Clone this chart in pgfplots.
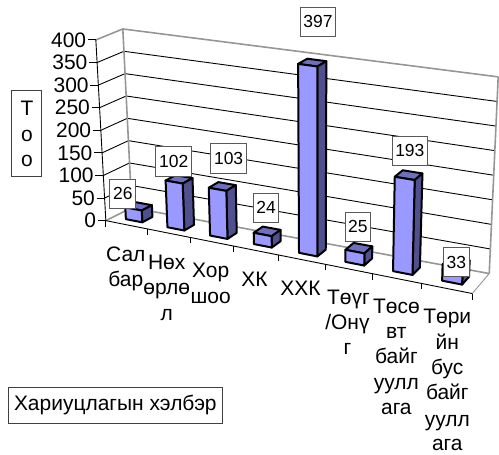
\documentclass[border=0pt]{standalone}
\usepackage{fontspec}
\setmainfont{Liberation Sans}
\usepackage{pgfplots}
\usepackage{pgfplotstable}
\pgfplotsset{compat=1.18}
\definecolor{wallgray}{HTML}{969696}
\definecolor{barfront}{HTML}{9999FF}
\definecolor{barside}{HTML}{50508F}
\definecolor{bartop}{HTML}{6F6FC0}
\pgfplotstableread{
idx value
0 26
1 102
2 103
3 24
4 397
5 25
6 193
7 33
}\datatbl
% perspective: u in [0,1] along categories, v = value, d in [0,1] depth
\newcommand\Proj[5]{%
 \pgfmathsetmacro\ps{(#1)/(1+0.118*(1-(#1)))}%
 \pgfmathsetmacro\pv{(#2)/400}%
 \pgfmathsetmacro\pd{#3}%
 \pgfmathsetmacro#4{(1-\pd)*((1-\pv)*(106+367*\ps)+\pv*(96+384*\ps))+\pd*((1-\pv)*(132+358*\ps)+\pv*(123+376*\ps))}%
 \pgfmathsetmacro#5{(1-\pd)*((1-\pv)*(221+73*\ps)+\pv*(40+52*\ps))+\pd*((1-\pv)*(208+66*\ps)+\pv*(29+48*\ps))}%
}
\newcommand\Seg[3]{% style, 2 points
 \Proj#2\Xa\Ya \Proj#3\Xb\Yb
 \edef\temp{\noexpand\addplot[\unexpanded{#1}] coordinates {(\Xa,\Ya)(\Xb,\Yb)};}\temp
}
\tikzset{barline/.style={draw=black,line width=2pt,line join=round}}
\newcommand\FaceE[5]{\Proj#2\Xa\Ya \Proj#3\Xb\Yb \Proj#4\Xc\Yc \Proj#5\Xd\Yd
 \edef\temp{\noexpand\addplot[\unexpanded{#1}] coordinates {(\Xa,\Ya)(\Xb,\Yb)(\Xc,\Yc)(\Xd,\Yd)} --cycle;}\temp}
\newcommand\DrawBar[1]{%
 \pgfplotstablegetelem{#1}{value}\of\datatbl
 \edef\val{\pgfplotsretval}%
 \pgfmathsetmacro\ua{(#1+0.5)/8-0.025}%
 \pgfmathsetmacro\ub{(#1+0.5)/8+0.025}%
 \def\da{0.3}\def\db{0.7}%
 \FaceE{fill=bartop,barline}{{\ua}{\val}{\da}}{{\ub}{\val}{\da}}{{\ub}{\val}{\db}}{{\ua}{\val}{\db}}%
 \FaceE{fill=barside,barline}{{\ub}{0}{\da}}{{\ub}{\val}{\da}}{{\ub}{\val}{\db}}{{\ub}{0}{\db}}%
 \FaceE{fill=barfront,barline}{{\ua}{0}{\da}}{{\ub}{0}{\da}}{{\ub}{\val}{\da}}{{\ua}{\val}{\da}}%
}
\newcommand\GridLine[2]{% value, style
 \Proj{0}{#1}{0}\Xa\Ya \Proj{0}{#1}{1}\Xb\Yb \Proj{1}{#1}{1}\Xc\Yc
 \edef\temp{\noexpand\addplot[\unexpanded{#2}] coordinates {(\Xa,\Ya)(\Xb,\Yb)(\Xc,\Yc)};}\temp}
\newcommand\Tick[1]{\Proj{0}{#1}{0}\Xa\Ya
 \pgfmathsetmacro\Xs{\Xa-8}%
 \edef\temp{\noexpand\addplot[black,line width=0.9pt] coordinates {(\Xs,\Ya)(\Xa,\Ya)};}\temp
 \edef\temp{\noexpand\node[anchor=east,font=\noexpand\fontsize{21}{24}\noexpand\selectfont,inner sep=0pt] at (axis cs:\Xs-1.5,\Ya) {#1};}\temp}
\newcommand\Xtick[1]{\pgfmathsetmacro\uu{#1/8}\Proj{\uu}{0}{0}\Xa\Ya
 \pgfmathsetmacro\Yt{\Ya+6}%
 \edef\temp{\noexpand\addplot[black,line width=0.9pt] coordinates {(\Xa,\Ya)(\Xa,\Yt)};}\temp}
\newcommand\Lab[3]{\node[anchor=base,font=\fontsize{21}{24}\selectfont,inner sep=0pt] at (axis cs:#1,#2+7.5) {#3};}
\newcommand\Val[3]{\node[draw=black!65,fill=white,line width=0.8pt,font=\fontsize{17.5}{20}\selectfont,inner sep=0pt,minimum height=29.5pt,minimum width=#3pt] at (axis cs:#1) {#2};}
\begin{document}
\begin{tikzpicture}
\begin{axis}[scale only axis,width=499pt,height=455pt,xmin=0,xmax=499,ymin=0,ymax=455,y dir=reverse,hide axis,clip=false]
\path (axis cs:0,0) rectangle (axis cs:499,455);
% gridlines on the walls
\GridLine{50}{black,line width=0.9pt}
\GridLine{100}{black,line width=0.9pt}
\GridLine{150}{black,line width=0.9pt}
\GridLine{200}{black,line width=0.9pt}
\GridLine{250}{black,line width=0.9pt}
\GridLine{300}{black,line width=0.9pt}
\GridLine{350}{black,line width=0.9pt}
\GridLine{400}{wallgray,line width=1.6pt}
\GridLine{0}{wallgray,line width=1.6pt}
\Seg{wallgray,line width=1.6pt}{{0}{0}{1}}{{0}{400}{1}}
\Seg{wallgray,line width=1.6pt}{{1}{0}{1}}{{1}{400}{1}}
\Seg{wallgray,line width=0.9pt}{{1}{0}{0}}{{1}{0}{1}}
% axes
\Seg{black,line width=0.9pt}{{0}{0}{0}}{{0}{400}{0}}
\Seg{black,line width=0.9pt}{{0}{0}{0}}{{1}{0}{0}}
\Tick{0}\Tick{50}\Tick{100}\Tick{150}\Tick{200}\Tick{250}\Tick{300}\Tick{350}\Tick{400}
\Xtick{0}\Xtick{1}\Xtick{2}\Xtick{3}\Xtick{4}\Xtick{5}\Xtick{6}\Xtick{7}\Xtick{8}
% bars
\DrawBar{0}\DrawBar{1}\DrawBar{2}\DrawBar{3}\DrawBar{4}\DrawBar{5}\DrawBar{6}\DrawBar{7}
% value boxes
\Val{123,194}{26}{26}
\Val{174,161.5}{102}{36}
\Val{229,158.5}{103}{36}
\Val{266.5,208}{24}{25}
\Val{318.5,22}{397}{35}
\Val{358.5,227}{25}{25}
\Val{410.5,151}{193}{35}
\Val{457,262.5}{33}{26}
% category labels
\Lab{126}{254}{Сал}\Lab{126}{279}{бар}
\Lab{167}{262}{Нөх}\Lab{167}{287}{өрлө}\Lab{167}{314}{л}
\Lab{211}{270}{Хор}\Lab{211}{296}{шоо}
\Lab{255}{279}{ХК}
\Lab{301}{288}{ХХК}
\Lab{349}{297}{Төүг}\Lab{348}{323}{/Онү}\Lab{348}{348}{г}
\Lab{397}{306}{Төсө}\Lab{397}{332}{вт}\Lab{397}{357}{байг}\Lab{397}{383}{уулл}\Lab{397}{408}{ага}
\Lab{448}{317}{Төри}\Lab{448}{343}{йн}\Lab{448}{368}{бус}\Lab{448}{393}{байг}\Lab{448}{420}{уулл}\Lab{448}{444}{ага}
% axis titles
\node[draw=black!75,line width=0.8pt,minimum width=30pt,minimum height=86pt,inner sep=0pt] at (axis cs:26,134) {};
\Lab{27}{108}{Т}\Lab{27}{134}{о}\Lab{27}{159}{о}
\node[draw=black!75,line width=0.8pt,minimum width=215pt,minimum height=36pt,inner sep=0pt,font=\fontsize{21}{24}\selectfont] at (axis cs:115.5,406) {Хариуцлагын хэлбэр};
\end{axis}
\end{tikzpicture}
\end{document}
